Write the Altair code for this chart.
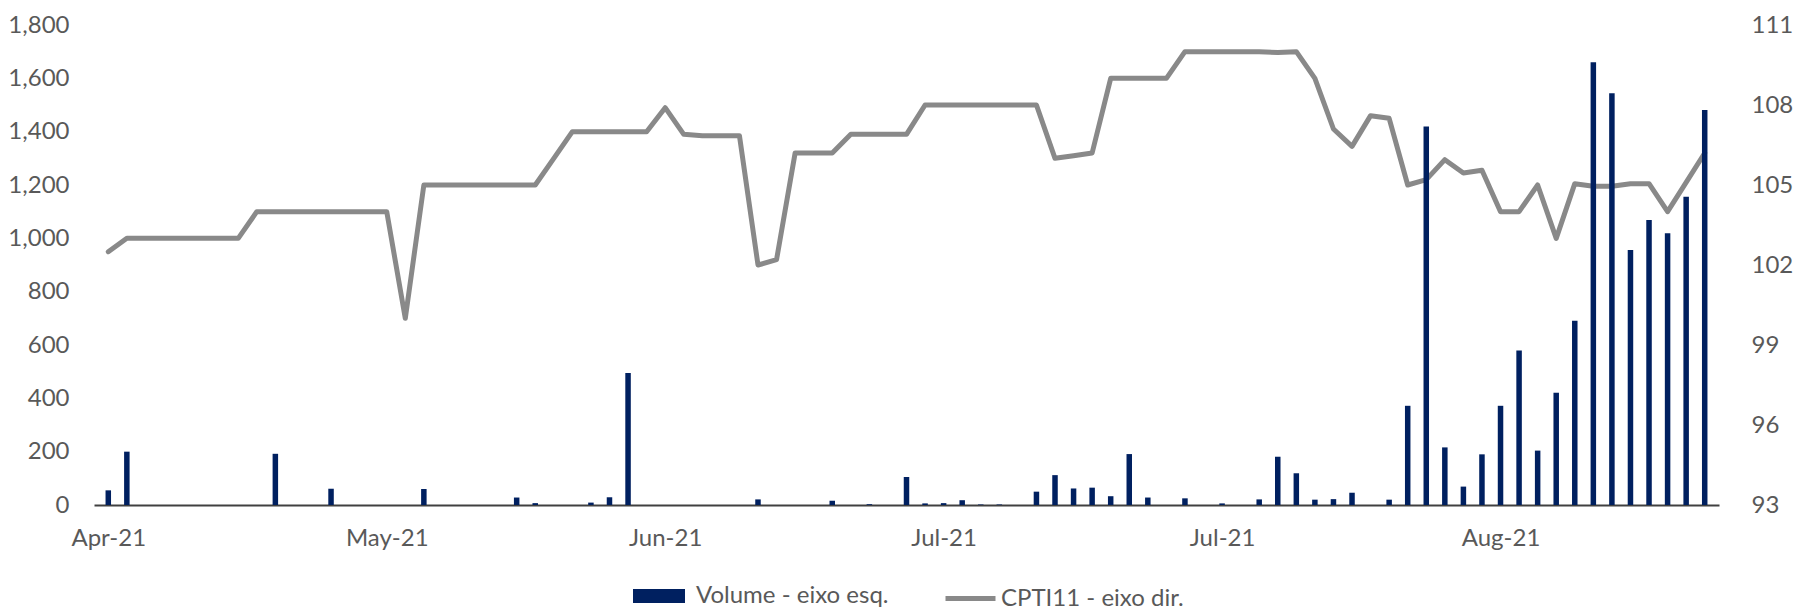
import altair as alt
import pandas as pd

# ---- data (one value per trading-day category) ----
volume = [
    55, 200, 0, 0, 0, 0, 0, 0, 0, 192,
    0, 0, 61, 0, 0, 0, 0, 60, 0, 0,
    0, 0, 28, 7, 0, 0, 9, 29, 495, 0,
    0, 0, 0, 0, 0, 21, 0, 0, 0, 16,
    0, 3, 0, 105, 6, 7, 18, 2, 2, 0,
    50, 112, 62, 65, 33, 191, 28, 0, 25, 0,
    6, 0, 21, 181, 119, 20, 22, 46, 0, 20,
    372, 1419, 216, 69, 190, 372, 579, 204, 421, 691,
    1660, 1544, 956, 1069, 1019, 1156, 1481,
]
price = [
    102.5, 103.0, 103.0, 103.0, 103.0, 103.0, 103.0, 103.0, 104.0, 104.0,
    104.0, 104.0, 104.0, 104.0, 104.0, 104.0, 100.0, 105.0, 105.0, 105.0,
    105.0, 105.0, 105.0, 105.0, 106.0, 107.0, 107.0, 107.0, 107.0, 107.0,
    107.9, 106.9, 106.85, 106.85, 106.85, 102.0, 102.2, 106.2, 106.2, 106.2,
    106.9, 106.9, 106.9, 106.9, 108.0, 108.0, 108.0, 108.0, 108.0, 108.0,
    108.0, 106.0, 106.1, 106.2, 109.0, 109.0, 109.0, 109.0, 110.0, 110.0,
    110.0, 110.0, 110.0, 109.97, 110.0, 109.0, 107.1, 106.45, 107.6, 107.5,
    105.0, 105.2, 105.95, 105.45, 105.55, 104.0, 104.0, 105.0, 103.0, 105.05,
    104.95, 104.95, 105.05, 105.05, 104.0, 105.1, 106.2,
]
tick_positions = [0, 15, 30, 45, 60, 75]
tick_labels = ["Apr-21", "May-21", "Jun-21", "Jul-21", "Jul-21", "Aug-21"]
left_ticks = [0, 200, 400, 600, 800, 1000, 1200, 1400, 1600, 1800]
right_ticks = [93, 96, 99, 102, 105, 108, 111]
series_names = ["Volume - eixo esq.", "CPTI11 - eixo dir."]

assert len(volume) == len(price)
n = len(volume)
df = pd.DataFrame({"idx": list(range(n)), "vol": volume, "price": price})

NAVY = "#002060"
GRAY = "#898989"
TXT = "#595959"
FONT = "Lato"
FS = 24

lab_arr = "[" + ",".join(f"'{t}'" for t in tick_labels) + "]"
pos_arr = "[" + ",".join(str(p) for p in tick_positions) + "]"
label_expr = f"{lab_arr}[indexof({pos_arr}, datum.value)]"

x_enc = alt.X(
    "idx:Q",
    scale=alt.Scale(domain=[-0.5, n - 0.5], nice=False, zero=False),
    axis=alt.Axis(
        values=tick_positions, labelExpr=label_expr, title=None,
        ticks=False, tickSize=0, labelPadding=21, domain=True,
        domainColor="#404040", domainWidth=2, grid=False,
        labelFont=FONT, labelFontSize=FS, labelColor=TXT,
    ),
)

bars = (
    alt.Chart(df)
    .transform_calculate(series=f"'{series_names[0]}'")
    .mark_bar(size=5.5, strokeWidth=0)
    .encode(
        x=x_enc,
        y=alt.Y(
            "vol:Q",
            scale=alt.Scale(domain=[0, 1800], nice=False),
            axis=alt.Axis(
                orient="left", values=left_ticks, format=",.0f", title=None,
                domain=False, ticks=False, tickSize=0, labelPadding=25,
                grid=False, labelFont=FONT, labelFontSize=FS, labelColor=TXT,
            ),
        ),
        fill=alt.Fill(
            "series:N",
            scale=alt.Scale(domain=[series_names[0]], range=[NAVY]),
            legend=alt.Legend(
                title=None, orient="none", legendX=539, legendY=545,
                symbolType="M-1,-0.27H1V0.27H-1Z", symbolSize=2704,
                symbolStrokeWidth=0, labelOffset=11, padding=0, labelLimit=500,
                labelFont=FONT, labelFontSize=FS, labelColor=TXT,
            ),
        ),
    )
)

line = (
    alt.Chart(df)
    .transform_calculate(series2=f"'{series_names[1]}'")
    .mark_line(strokeWidth=5, strokeJoin="round", strokeCap="round")
    .encode(
        x=x_enc,
        y=alt.Y(
            "price:Q",
            scale=alt.Scale(domain=[93, 111], nice=False, zero=False),
            axis=alt.Axis(
                orient="right", values=right_ticks, title=None,
                domain=False, ticks=False, tickSize=0, labelPadding=32,
                grid=False, labelFont=FONT, labelFontSize=FS, labelColor=TXT,
            ),
        ),
        stroke=alt.Stroke(
            "series2:N",
            scale=alt.Scale(domain=[series_names[1]], range=[GRAY]),
            legend=alt.Legend(
                title=None, orient="none", legendX=849, legendY=546,
                symbolType="stroke", symbolSize=2500, symbolStrokeWidth=5,
                labelOffset=3, padding=0, labelLimit=500,
                labelFont=FONT, labelFontSize=FS, labelColor=TXT,
            ),
        ),
    )
)

chart = (
    alt.layer(line, bars)
    .resolve_scale(y="independent")
    .properties(
        width=1625,
        height=480,
        padding={"left": 94, "top": 25, "right": 96, "bottom": 104},
        autosize=alt.AutoSizeParams(type="none"),
        background="white",
    )
    .configure_view(stroke=None)
)

chart.save("out.html", embed_options={"renderer": "svg", "actions": False})
